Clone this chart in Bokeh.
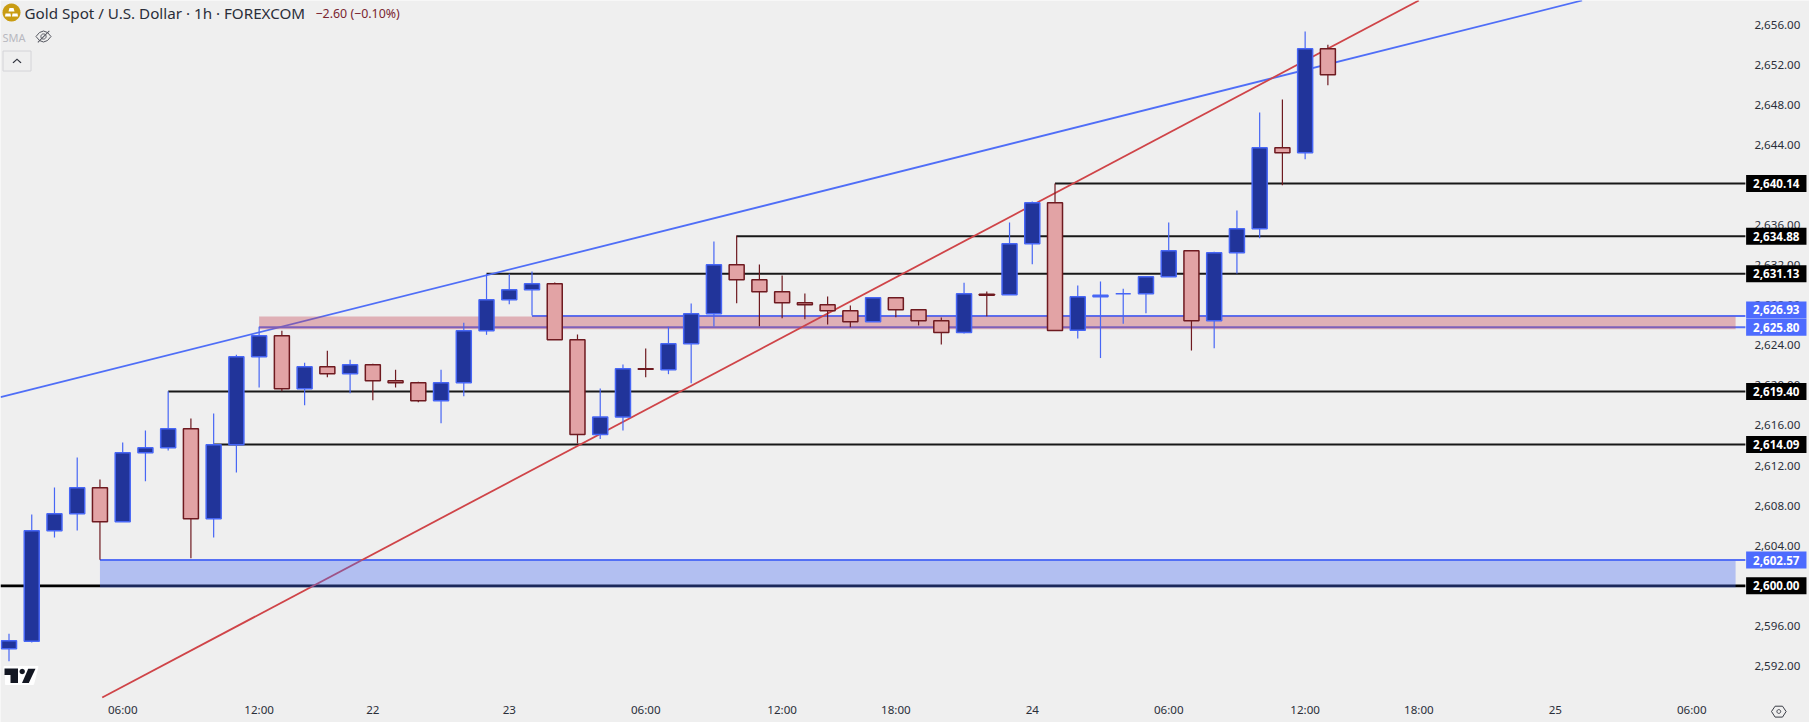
import math
from bokeh.embed import file_html
from bokeh.resources import INLINE
from bokeh.plotting import figure
from bokeh.models import FixedTicker, NumeralTickFormatter, Label, PolyAnnotation, ColumnDataSource

# ---- candle data ----
opens = [2593.71,2594.47,2605.49,2607.19,2609.78,2606.39,2613.27,2613.77,2615.67,2606.69,
         2614.07,2622.85,2624.95,2619.66,2621.86,2621.16,2622.06,2620.46,2620.26,2618.46,
         2620.26,2625.45,2628.54,2629.54,2630.14,2624.55,2615.10,2616.84,2621.66,2621.56,
         2624.15,2627.15,2632.04,2630.54,2629.34,2628.24,2628.04,2627.44,2626.35,2628.74,
         2627.54,2626.45,2625.28,2629.10,2629.04,2634.13,2638.22,2625.50,2628.84,2629.14,
         2629.14,2630.84,2633.43,2626.45,2633.23,2635.63,2643.71,2643.21,2653.59]
highs = [2595.21,2607.12,2609.81,2612.80,2610.61,2614.30,2615.50,2619.42,2616.70,2617.20,
         2623.05,2625.85,2625.45,2622.26,2623.45,2622.55,2622.16,2621.56,2620.36,2621.56,
         2626.25,2631.14,2631.14,2631.37,2630.27,2625.08,2619.69,2622.09,2623.68,2625.85,
         2628.17,2634.36,2634.96,2632.06,2630.97,2629.17,2628.87,2627.97,2628.74,2628.74,
         2627.54,2626.77,2630.24,2629.37,2636.26,2638.35,2640.16,2629.97,2630.37,2629.64,
         2630.84,2636.26,2633.43,2633.33,2637.45,2647.23,2648.53,2655.32,2653.99]
lows = [2592.48,2594.34,2604.82,2605.52,2602.59,2606.39,2610.44,2613.50,2602.75,2604.82,
        2611.31,2619.79,2619.42,2618.02,2620.82,2619.22,2618.52,2619.79,2618.32,2616.23,
        2618.92,2625.05,2628.10,2626.97,2624.55,2614.20,2614.65,2615.50,2620.82,2621.12,
        2620.22,2625.88,2628.20,2625.91,2626.71,2626.61,2626.08,2625.81,2626.35,2626.81,
        2625.98,2624.08,2625.18,2626.91,2629.04,2632.10,2625.48,2624.68,2622.73,2626.15,
        2627.20,2630.84,2623.48,2623.71,2631.17,2634.69,2639.98,2642.57,2649.96]
closes = [2594.51,2605.49,2607.19,2609.78,2606.39,2613.27,2613.77,2615.67,2606.69,2614.07,
          2622.85,2624.95,2619.66,2621.86,2621.16,2622.06,2620.46,2620.26,2618.46,2620.26,
          2625.45,2628.54,2629.54,2630.14,2624.55,2615.10,2616.84,2621.66,2621.60,2624.15,
          2627.15,2632.04,2630.54,2629.34,2628.24,2628.04,2627.44,2626.35,2628.74,2627.54,
          2626.45,2625.28,2629.14,2629.00,2634.13,2638.22,2625.48,2628.84,2629.00,2629.14,
          2630.84,2633.43,2626.45,2633.23,2635.63,2643.71,2643.21,2653.59,2651.00]

y_ticks = [2592,2596,2600,2604,2608,2612,2616,2620,2624,2628,2632,2636,2640,2644,2648,2652,2656]
x_tick_bars = [5,11,16,22,28,34,39,45,51,57,62,68,74]
x_tick_labels = ["06:00","12:00","22","23","06:00","12:00","18:00","24","06:00","12:00","18:00","25","06:00"]

black_levels = [2640.14,2634.88,2631.13,2619.40,2614.09]
black_starts = [46,32,21,7,9]
blue_levels = [2626.93,2625.80,2602.57]
blue_starts = [23,11,4]
round_level = 2600.00

pink_zone = (11, 75.93, 2625.60, 2626.87)
blue_zone = (4, 75.93, 2599.83, 2602.57)

blue_trend_x = [-0.37, 69.18]
blue_trend_y = [2618.82, 2658.41]
red_trend_x = [4.1, 62.0]
red_trend_y = [2588.85, 2658.41]

BG = "#EFEFEF"
UP_FILL, UP_LINE = "#21349A", "#4766F5"
DN_FILL, DN_LINE = "#E2A3A5", "#6E1A20"
FONT = "Noto Sans"

X0, X_AXIS, X1 = -0.3738, 76.36, 79.18
Y0, Y_AXIS, Y1 = 2586.36, 2588.85, 2658.41
p = figure(width=1809, height=722, output_backend="svg", toolbar_location=None,
           x_range=(X0, X1), y_range=(Y0, Y1), y_axis_location="right",
           min_border_left=0, min_border_top=0, min_border_right=0, min_border_bottom=0,
           background_fill_color=BG, border_fill_color=BG, outline_line_color=None)
p.styles = {"position": "absolute", "left": "0px", "top": "0px"}
p.grid.visible = False

p.yaxis.ticker = FixedTicker(ticks=y_ticks)
p.yaxis.formatter = NumeralTickFormatter(format="0,0.00")
p.xaxis.ticker = FixedTicker(ticks=x_tick_bars)
p.xaxis.major_label_overrides = {b: t for b, t in zip(x_tick_bars, x_tick_labels)}
p.yaxis.fixed_location = X_AXIS
p.xaxis.fixed_location = Y_AXIS
for ax in (p.xaxis[0], p.yaxis[0]):
    ax.axis_line_color = None
    ax.major_tick_line_color = None
    ax.minor_tick_line_color = None
    ax.major_tick_out = 0
    ax.major_tick_in = 0
    ax.minor_tick_out = 0
    ax.minor_tick_in = 0
    ax.major_label_text_font = FONT
    ax.major_label_text_font_size = "11.6px"
    ax.major_label_text_color = "#2A2E39"
p.yaxis.major_label_standoff = 9
p.xaxis.major_label_standoff = 4

# horizontal levels
p.segment(x0=black_starts, x1=[X_AXIS]*len(black_levels), y0=black_levels, y1=black_levels,
          line_color="#181818", line_width=2)
p.segment(x0=[X0], x1=[X_AXIS], y0=[round_level], y1=[round_level], line_color="#000000", line_width=2.8)
p.segment(x0=blue_starts, x1=[X_AXIS]*len(blue_levels), y0=blue_levels, y1=blue_levels,
          line_color="#5670F5", line_width=2)
# trend lines
p.line(blue_trend_x, blue_trend_y, line_color="#4F6EF7", line_width=1.8)
p.line(red_trend_x, red_trend_y, line_color="#CF4448", line_width=1.8)
# zones
p.quad(left=[pink_zone[0]], right=[pink_zone[1]], bottom=[pink_zone[2]], top=[pink_zone[3]],
       fill_color="#C44555", fill_alpha=0.37, line_color=None)
p.quad(left=[blue_zone[0]], right=[blue_zone[1]], bottom=[blue_zone[2]], top=[blue_zone[3]],
       fill_color="#4A6DF4", fill_alpha=0.37, line_color=None)

# candles
idx = list(range(len(opens)))
up = [c >= o for o, c in zip(opens, closes)]
src = ColumnDataSource(dict(
    x=idx, high=highs, low=lows,
    top=[max(o, c) for o, c in zip(opens, closes)],
    bottom=[min(o, c) for o, c in zip(opens, closes)],
    fill=[UP_FILL if u else DN_FILL for u in up],
    line=[UP_LINE if u else DN_LINE for u in up]))
p.segment(x0="x", x1="x", y0="low", y1="high", source=src, line_color="line", line_width=1.2)
p.vbar(x="x", width=0.66, top="top", bottom="bottom", source=src,
       fill_color="fill", line_color="line", line_width=1.5)

# price tags on the axis
def tag(level, color, shift=0):
    p.add_layout(Label(x=1775.8, y=level, x_units="screen", y_units="data", y_offset=shift,
                       text=f"{level:,.2f}", text_align="center", text_baseline="middle",
                       text_color="#FFFFFF", text_font=FONT, text_font_size="11.6px",
                       text_font_style="bold", background_fill_color=color,
                       padding=dict(left=7, right=7, top=4, bottom=4)))
for lv in black_levels + [round_level]:
    tag(lv, "#000000")
tag(blue_levels[0], "#4D6BFE", 6)
tag(blue_levels[1], "#4D6BFE")
tag(blue_levels[2], "#4D6BFE")

# header texts
H = 722
def text(s, x, y, size, color):
    p.add_layout(Label(x=x, y=H - y, x_units="screen", y_units="screen", text=s,
                       text_align="left", text_baseline="middle", text_color=color,
                       text_font=FONT, text_font_size=size))
text("Gold Spot / U.S. Dollar \u00b7 1h \u00b7 FOREXCOM", 24, 12.5, "15.2px", "#2A2E39")
text("\u22122.60 (\u22120.10%)", 315, 12.5, "12.4px", "#7A2530")
text("SMA", 2, 36.5, "11px", "#B8B8C0")

# small icons
def poly(pts, fill=None, line=None, lw=1.0):
    p.add_layout(PolyAnnotation(xs=[a for a, b in pts], ys=[H - b for a, b in pts],
                                xs_units="screen", ys_units="screen",
                                fill_color=fill, fill_alpha=1.0 if fill else 0.0,
                                line_color=line, line_alpha=1.0 if line else 0.0, line_width=lw,
                                editable=False))
def circle(cx, cy, r, **kw):
    poly([(cx + r*math.cos(t/24*2*math.pi), cy + r*math.sin(t/24*2*math.pi)) for t in range(24)], **kw)

circle(11, 12, 9, fill="#C99C13")
poly([(9,7.5),(13,7.5),(14,11),(8,11)], fill="#FFFFFF")
poly([(5,13),(10,13),(10.5,16),(4.5,16)], fill="#FFFFFF")
poly([(12,13),(17,13),(17.5,16),(11.5,16)], fill="#FFFFFF")
# hidden-eye icon
poly([(35.5,36),(39,32),(43,30.5),(47,32),(50.5,36),(47,40),(43,41.5),(39,40)], line="#555760", lw=1)
circle(43, 36, 2.6, line="#555760")
poly([(37,41.5),(48.5,30),(49.2,30.7),(37.7,42.2)], fill="#555760")
# collapse button
poly([(2.5,50.5),(30.5,50.5),(30.5,70.5),(2.5,70.5)], line="#D4D4D8", lw=1)
poly([(12,62),(16.5,58),(21,62),(20,62.8),(16.5,59.6),(13,62.8)], fill="#333640")
# TradingView mark
poly([(3.5,666),(37.5,666),(33,684),(5,684),(5,673),(3.5,673)], fill="#FFFFFF", line="#FFFFFF", lw=1)
poly([(4,668),(17.5,668),(17.5,682.5),(10,682.5),(10,674.5),(4,674.5)], fill="#131722")
circle(21.7, 671, 2.7, fill="#131722")
poly([(27.7,668.3),(35,668.3),(28.3,682.5),(21.5,682.5)], fill="#131722")
# settings icon
poly([(1771,711),(1774.6,705.7),(1782,705.7),(1785.6,711),(1782,716.6),(1774.6,716.6)], line="#3A3D46", lw=1)
circle(1778.3, 711, 1.9, line="#3A3D46")

open("out.html", "w").write(file_html(p, INLINE))
